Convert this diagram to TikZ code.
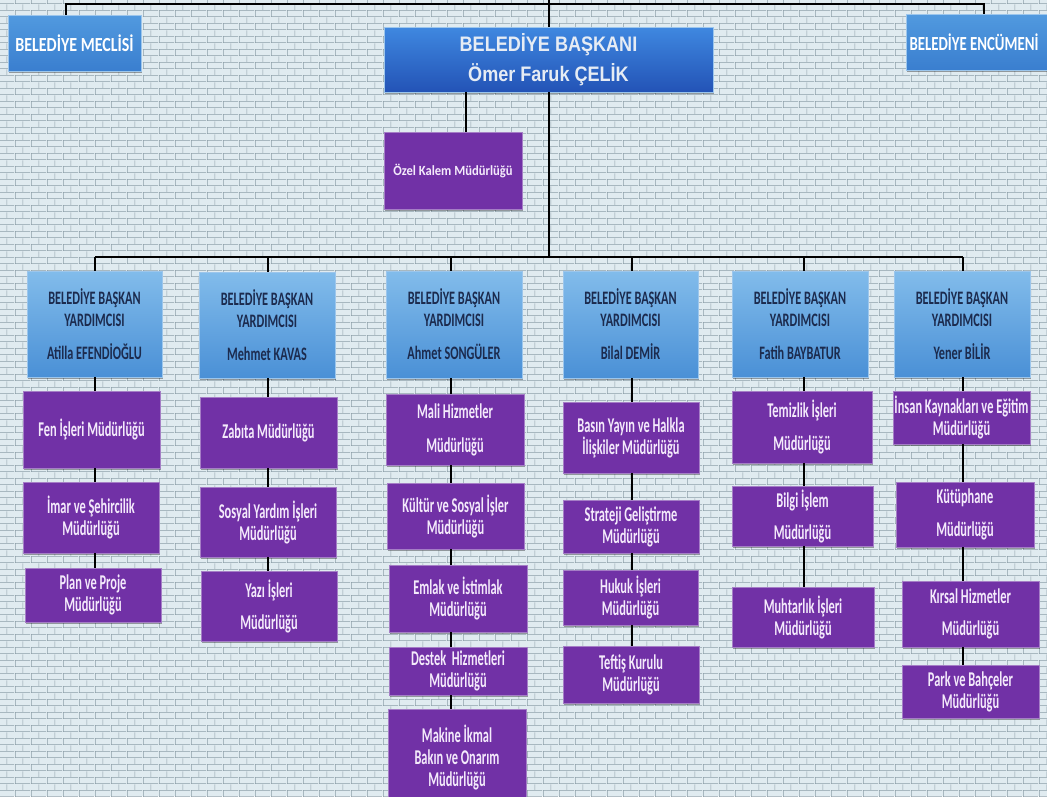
\documentclass[tikz,border=0pt]{standalone}
\usepackage{fontspec}
\usetikzlibrary{shadows,patterns}
\newfontfamily\purpfam[FakeStretch=0.59]{Carlito}
\newfontfamily\depfam[FakeStretch=0.645]{Carlito}
\newfontfamily\ozfam[FakeStretch=0.9]{Carlito}
\newfontfamily\mecfam[FakeStretch=0.8]{Carlito}
\newfontfamily\encfam[FakeStretch=0.74]{Carlito}
\newfontfamily\baskfam[FakeStretch=0.86]{Liberation Sans}
\definecolor{brickbg}{HTML}{E0EBF0}
\definecolor{mortar}{HTML}{8B9DA7}
\definecolor{purp}{HTML}{7131A6}
\definecolor{purpedge}{HTML}{A57EC6}
\definecolor{ptext}{HTML}{F4EAFB}
\definecolor{dtop}{HTML}{82BCEB}
\definecolor{dbot}{HTML}{4A90D6}
\definecolor{dedge}{HTML}{9CC6EC}
\definecolor{dtext}{HTML}{1C2B4E}
\definecolor{btop}{HTML}{3F88E0}
\definecolor{bbot}{HTML}{2353B6}
\definecolor{btext}{HTML}{E6ECF4}
\definecolor{mtop}{HTML}{519ADF}
\definecolor{mbot}{HTML}{3A7ECF}
\pgfdeclarepatternformonly{brickwall}{\pgfqpoint{0pt}{0pt}}{\pgfqpoint{16pt}{13.3pt}}{\pgfqpoint{16pt}{13.3pt}}{%
  \pgfsetlinewidth{0.6pt}%
  \pgfpathmoveto{\pgfqpoint{0pt}{0.3pt}}\pgfpathlineto{\pgfqpoint{16pt}{0.3pt}}%
  \pgfpathmoveto{\pgfqpoint{0pt}{6.95pt}}\pgfpathlineto{\pgfqpoint{16pt}{6.95pt}}%
  \pgfpathmoveto{\pgfqpoint{0.3pt}{0pt}}\pgfpathlineto{\pgfqpoint{0.3pt}{6.65pt}}%
  \pgfpathmoveto{\pgfqpoint{8.3pt}{6.65pt}}\pgfpathlineto{\pgfqpoint{8.3pt}{13.3pt}}%
  \pgfusepath{stroke}}
\newcommand\purpfont{\purpfam\bfseries\fontsize{21}{22}\selectfont}
\newcommand\depfont{\depfam\bfseries\fontsize{19}{22}\selectfont}
\newcommand\ozfont{\ozfam\bfseries\fontsize{14}{17}\selectfont}
\newcommand\mecfont{\mecfam\bfseries\fontsize{20}{22}\selectfont}
\newcommand\encfont{\encfam\bfseries\fontsize{20}{22}\selectfont}
\newcommand\baskfont{\baskfam\bfseries\fontsize{21}{30}\selectfont}
\begin{document}
\begin{tikzpicture}[x=1pt,y=-1pt,
  sz/.style 2 args={minimum width=#1pt, minimum height=#2pt},
  shad/.style={drop shadow={shadow xshift=1.2pt, shadow yshift=-1.6pt, opacity=0.35, fill=black}},
  pbox/.style={rectangle, inner sep=0pt, fill=purp, draw=purpedge, line width=0.7pt, text=ptext, font=\purpfont, align=center, shad},
  dbox/.style={rectangle, inner sep=0pt, top color=dtop, bottom color=dbot, draw=dedge, line width=0.7pt, text=dtext, font=\depfont, align=center, shad},
  bbox/.style={rectangle, inner sep=0pt, top color=btop, bottom color=bbot, draw=dedge, line width=0.7pt, text=btext, font=\baskfont, align=center, shad},
  mbox/.style={rectangle, inner sep=0pt, top color=mtop, bottom color=mbot, draw=dedge, line width=0.7pt, text=white, font=\mecfont, align=center, shad},
  conn/.style={draw=black, line width=1.9pt}]
\useasboundingbox (0,0) rectangle (1047,796);
\clip (0,0) rectangle (1047,796);
\fill[brickbg] (0,0) rectangle (1047,796);
\path[pattern=brickwall, pattern color=mortar] (0,0) rectangle (1047,796);

% top level
\node[mbox, sz={133}{56}] (meclis) at (74.5,43) {BELEDİYE MECLİSİ};
\node[mbox, font=\encfont, sz={156}{56}] (encumen) at (984,42) {BELEDİYE ENCÜMENİ\hspace*{20pt}};
\node[bbox, sz={329}{65}] (bask) at (548.5,59.5) {BELEDİYE BAŞKANI\\Ömer Faruk ÇELİK};
\node[pbox, font=\ozfont, sz={138}{77}] (ozel) at (453,170.5) {Özel Kalem Müdürlüğü};

% deputies
\node[dbox, sz={135}{106}] (d1) at (94.5,324) {BELEDİYE BAŞKAN\\YARDIMCISI\\[11pt]Atilla EFENDİOĞLU};
\node[dbox, sz={136}{106}] (d2) at (267,325) {BELEDİYE BAŞKAN\\YARDIMCISI\\[11pt]Mehmet KAVAS};
\node[dbox, sz={136}{107}] (d3) at (454,324.5) {BELEDİYE BAŞKAN\\YARDIMCISI\\[11pt]Ahmet SONGÜLER};
\node[dbox, sz={135}{107}] (d4) at (630.5,324.5) {BELEDİYE BAŞKAN\\YARDIMCISI\\[11pt]Bilal DEMİR};
\node[dbox, sz={136}{106}] (d5) at (800,324) {BELEDİYE BAŞKAN\\YARDIMCISI\\[11pt]Fatih BAYBATUR};
\node[dbox, sz={136}{106}] (d6) at (962,324) {BELEDİYE BAŞKAN\\YARDIMCISI\\[11pt]Yener BİLİR};

% column 1
\node[pbox, sz={137}{77}] (p11) at (91.5,429.5) {Fen İşleri Müdürlüğü};
\node[pbox, sz={136}{71}] (p12) at (91,517.5) {İmar ve Şehircilik\\Müdürlüğü};
\node[pbox, sz={136}{54}] (p13) at (93,595) {Plan ve Proje\\Müdürlüğü};
% column 2
\node[pbox, sz={137}{71}] (p21) at (268.5,432.5) {Zabıta Müdürlüğü};
\node[pbox, sz={136}{70}] (p22) at (268,522) {Sosyal Yardım İşleri\\Müdürlüğü};
\node[pbox, sz={136}{70}] (p23) at (269,606) {Yazı İşleri\\[10pt]Müdürlüğü};
% column 3
\node[pbox, sz={138}{71}] (p31) at (455,429.5) {Mali Hizmetler\\[12pt]Müdürlüğü};
\node[pbox, sz={137}{66}] (p32) at (455.5,516) {Kültür ve Sosyal İşler\\Müdürlüğü};
\node[pbox, sz={138}{67}] (p33) at (458,598.5) {Emlak ve İstimlak\\Müdürlüğü};
\node[pbox, sz={138}{48}] (p34) at (458,671) {Destek~ Hizmetleri\\Müdürlüğü};
\node[pbox, sz={138}{97}] (p35) at (457,757.5) {Makine İkmal\\Bakın ve Onarım\\Müdürlüğü};
% column 4
\node[pbox, sz={136}{71}] (p41) at (631,437.5) {Basın Yayın ve Halkla\\İlişkiler Müdürlüğü};
\node[pbox, sz={136}{53}] (p42) at (631,526.5) {Strateji Geliştirme\\Müdürlüğü};
\node[pbox, sz={135}{55}] (p43) at (630.5,597.5) {Hukuk İşleri\\Müdürlüğü};
\node[pbox, sz={136}{57}] (p44) at (631,674.5) {Teftiş Kurulu\\Müdürlüğü};
% column 5
\node[pbox, sz={140}{72}] (p51) at (802,427) {Temizlik İşleri\\[11pt]Müdürlüğü};
\node[pbox, sz={141}{60}] (p52) at (802.5,516) {Bilgi İşlem\\[10pt]Müdürlüğü};
\node[pbox, sz={142}{60}] (p53) at (803,617) {Muhtarlık İşleri\\Müdürlüğü};
% column 6
\node[pbox, sz={137}{53}] (p61) at (961.5,417.5) {İnsan Kaynakları ve Eğitim\\Müdürlüğü};
\node[pbox, sz={138}{65}] (p62) at (965,514.5) {Kütüphane\\[11pt]Müdürlüğü};
\node[pbox, sz={137}{66}] (p63) at (970.5,614) {Kırsal Hizmetler\\[10pt]Müdürlüğü};
\node[pbox, sz={137}{53}] (p64) at (970.5,691.5) {Park ve Bahçeler\\Müdürlüğü};

% connector coordinates
\coordinate (top) at (549,0);
\coordinate (tl) at (66,4);
\coordinate (tr) at (984,4);
\coordinate (oz) at (466,0);
\coordinate (k0) at (549,257);
\coordinate (k1) at (95,257);
\coordinate (k2) at (268,257);
\coordinate (k3) at (451,257);
\coordinate (k4) at (632,257);
\coordinate (k5) at (804,257);
\coordinate (k6) at (963,257);

% connectors
\draw[conn] (meclis.north -| tl) -- (tl) -- (tr) -- (encumen.north -| tr);
\draw[conn] (top) -- (bask.north -| top);
\draw[conn] (bask.south -| oz) -- (ozel.north -| oz);
\draw[conn] (bask.south -| k0) -- (k0);
\draw[conn] (k1) -- (k6);
\foreach \c in {1,...,6}{\draw[conn] (k\c) -- (d\c.north -| k\c);}
\draw[conn] (d1.south -| k1) -- (p11.north -| k1);
\draw[conn] (p11.south -| k1) -- (p12.north -| k1);
\draw[conn] (p12.south -| k1) -- (p13.north -| k1);
\draw[conn] (d2.south -| k2) -- (p21.north -| k2);
\draw[conn] (p21.south -| k2) -- (p22.north -| k2);
\draw[conn] (p22.south -| k2) -- (p23.north -| k2);
\draw[conn] (d3.south -| k3) -- (p31.north -| k3);
\draw[conn] (p31.south -| k3) -- (p32.north -| k3);
\draw[conn] (p32.south -| k3) -- (p33.north -| k3);
\draw[conn] (p33.south -| k3) -- (p34.north -| k3);
\draw[conn] (p34.south -| k3) -- (p35.north -| k3);
\draw[conn] (d4.south -| k4) -- (p41.north -| k4);
\draw[conn] (p41.south -| k4) -- (p42.north -| k4);
\draw[conn] (p42.south -| k4) -- (p43.north -| k4);
\draw[conn] (p43.south -| k4) -- (p44.north -| k4);
\draw[conn] (d5.south -| k5) -- (p51.north -| k5);
\draw[conn] (p51.south -| k5) -- (p52.north -| k5);
\draw[conn] (p52.south -| k5) -- (p53.north -| k5);
\draw[conn] (d6.south -| k6) -- (p61.north -| k6);
\draw[conn] (p61.south -| k6) -- (p62.north -| k6);
\draw[conn] (p62.south -| k6) -- (p63.north -| k6);
\draw[conn] (p63.south -| k6) -- (p64.north -| k6);
\end{tikzpicture}
\end{document}
